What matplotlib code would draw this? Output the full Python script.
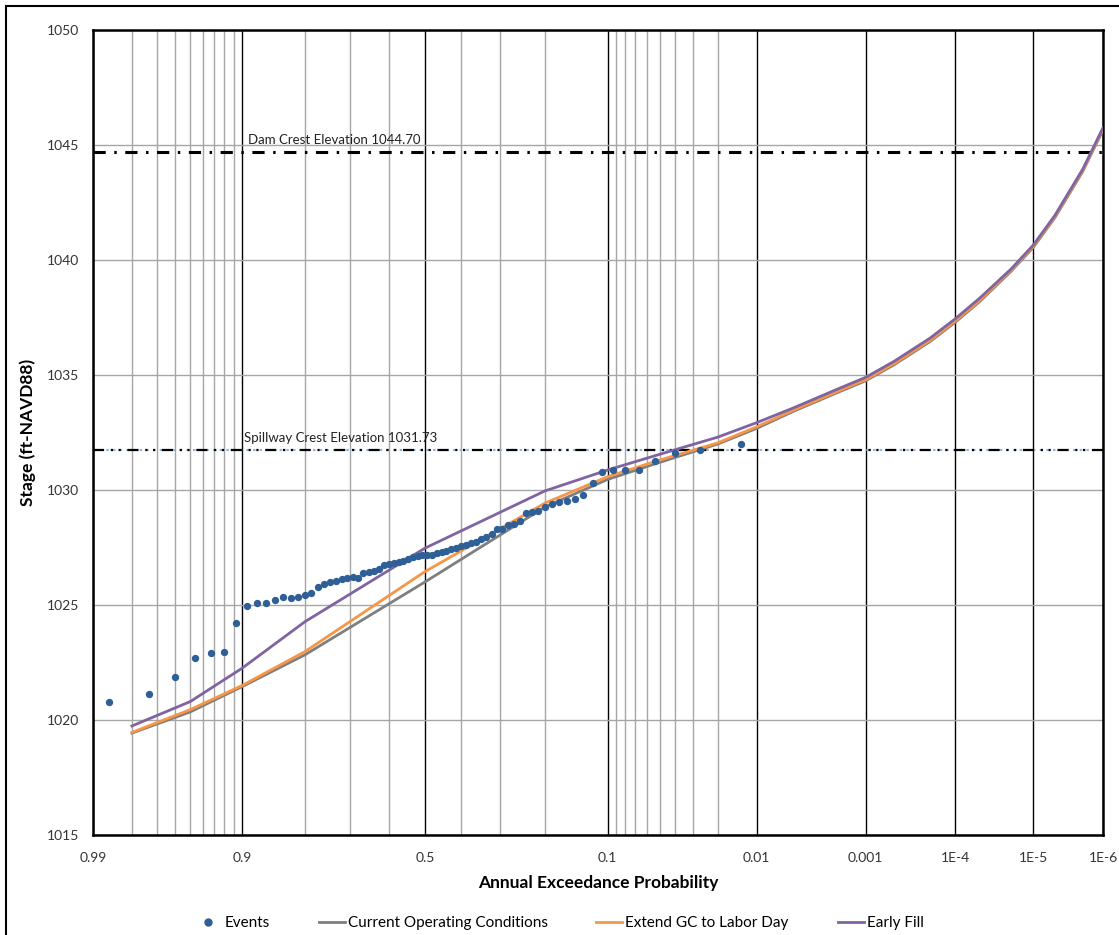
import numpy as np
import matplotlib
matplotlib.use("Agg")
import matplotlib.pyplot as plt
from matplotlib.patches import Rectangle
from matplotlib.lines import Line2D
from statistics import NormalDist

plt.rcParams['font.family'] = ['Lato', 'DejaVu Sans']

# ---- data ----
event_prob = [0.9867, 0.9733, 0.96, 0.9467, 0.9333, 0.92, 0.9067, 0.8933, 0.88, 0.8667,
              0.8533, 0.84, 0.8267, 0.8133, 0.8, 0.7867, 0.7733, 0.76, 0.7467, 0.7333,
              0.72, 0.7067, 0.6933, 0.68, 0.6667, 0.6533, 0.64, 0.6267, 0.6133, 0.6,
              0.5867, 0.5733, 0.56, 0.5467, 0.5333, 0.52, 0.5067, 0.4933, 0.48, 0.4667,
              0.4533, 0.44, 0.4267, 0.4133, 0.4, 0.3867, 0.3733, 0.36, 0.3467, 0.3333,
              0.32, 0.3067, 0.2933, 0.28, 0.2667, 0.2533, 0.24, 0.2267, 0.2133, 0.2,
              0.1867, 0.1733, 0.16, 0.1467, 0.1333, 0.12, 0.1067, 0.0933, 0.08, 0.0667,
              0.0533, 0.04, 0.0267, 0.0133]
event_stage = [1020.80, 1021.15, 1021.86, 1022.68, 1022.91, 1022.97, 1024.20, 1024.97, 1025.09, 1025.07,
               1025.22, 1025.33, 1025.30, 1025.36, 1025.43, 1025.51, 1025.80, 1025.91, 1026.01, 1026.04,
               1026.12, 1026.16, 1026.20, 1026.18, 1026.38, 1026.45, 1026.48, 1026.55, 1026.74, 1026.78,
               1026.84, 1026.88, 1026.92, 1027.00, 1027.10, 1027.15, 1027.17, 1027.17, 1027.17, 1027.25,
               1027.30, 1027.35, 1027.45, 1027.50, 1027.55, 1027.60, 1027.68, 1027.75, 1027.88, 1027.95,
               1028.10, 1028.30, 1028.32, 1028.48, 1028.52, 1028.67, 1028.99, 1029.06, 1029.08, 1029.27,
               1029.38, 1029.46, 1029.53, 1029.60, 1029.77, 1030.29, 1030.77, 1030.88, 1030.88, 1030.85,
               1031.27, 1031.60, 1031.74, 1032.00]

curve_prob = [0.98, 0.95, 0.9, 0.8, 0.5, 0.2, 0.1, 0.05, 0.02, 0.01, 0.005, 0.002, 0.001,
              5e-4, 2e-4, 1e-4, 5e-5, 2e-5, 1e-5, 5e-6, 2e-6, 1e-6]
current_stage = [1019.43, 1020.35, 1021.45, 1022.83, 1026.00, 1029.26, 1030.46, 1031.20, 1032.00, 1032.68,
                 1033.40, 1034.20, 1034.75, 1035.45, 1036.45, 1037.30, 1038.20, 1039.50, 1040.55,
                 1041.85, 1043.85, 1045.65]
extend_stage = [1019.46, 1020.45, 1021.50, 1022.97, 1026.45, 1029.43, 1030.58, 1031.30, 1032.05, 1032.75,
                1033.45, 1034.25, 1034.80, 1035.50, 1036.50, 1037.35, 1038.25, 1039.55, 1040.60,
                1041.90, 1043.90, 1045.70]
early_stage = [1019.74, 1020.80, 1022.25, 1024.27, 1027.47, 1029.96, 1030.87, 1031.55, 1032.30, 1032.93,
               1033.55, 1034.35, 1034.90, 1035.60, 1036.60, 1037.45, 1038.35, 1039.60, 1040.65,
               1041.95, 1043.95, 1045.75]

dam_crest = 1044.70
spillway_crest = 1031.73

major_ticks = [0.99, 0.9, 0.5, 0.1, 0.01, 0.001, 1e-4, 1e-5, 1e-6]
major_labels = ['0.99', '0.9', '0.5', '0.1', '0.01', '0.001', '1E-4', '1E-5', '1E-6']
minor_ticks = [0.98, 0.97, 0.96, 0.95, 0.94, 0.93, 0.92, 0.91, 0.8, 0.7, 0.6, 0.4, 0.3, 0.2,
               0.09, 0.08, 0.07, 0.06, 0.05, 0.04, 0.03, 0.02]

# ---- normal probability scale ----
_nd = NormalDist()


def prob_fwd(p):
    p = np.asarray(p, dtype=float)
    flat = np.clip(p.ravel(), 1e-12, 1 - 1e-12)
    return np.array([_nd.inv_cdf(v) if np.isfinite(v) else np.nan for v in flat]).reshape(p.shape)


def prob_inv(z):
    z = np.asarray(z, dtype=float)
    return np.array([_nd.cdf(v) if np.isfinite(v) else np.nan for v in z.ravel()]).reshape(z.shape)


fig = plt.figure(figsize=(11.19, 9.35), dpi=100)
ax = fig.add_axes([93 / 1119, 1 - 835 / 935, 1010 / 1119, 805 / 935])
ax.set_xscale('function', functions=(prob_fwd, prob_inv))
ax.set_xlim(0.99, 1e-6)
ax.set_ylim(1015, 1050)

ax.set_xticks(major_ticks)
ax.set_xticklabels(major_labels)
ax.set_xticks(minor_ticks, minor=True)
ax.set_yticks(np.arange(1015, 1051, 5))
ax.tick_params(which='both', length=0, labelsize=10, colors='#333333')
ax.tick_params(axis='x', pad=12)
ax.tick_params(axis='y', pad=10)

ax.grid(axis='x', which='major', color='black', lw=1.0)
ax.grid(axis='x', which='minor', color='#a6a6a6', lw=1.0)
ax.grid(axis='y', which='major', color='#a6a6a6', lw=1.0)
ax.set_axisbelow(True)
for s in ax.spines.values():
    s.set_linewidth(1.8)
    s.set_color('black')

# crest lines
ax.axhline(dam_crest, color='black', lw=2.2, linestyle=(0, (4, 2.8, 0.8, 2.8)))
ax.axhline(spillway_crest, color='#8db4e2', lw=1.5, linestyle=(0, (1.2, 2)))
ax.axhline(spillway_crest, color='black', lw=1.6, linestyle=(0, (5, 3, 1, 2.5, 1, 3)))
ax.text(155 / 1010, dam_crest + 0.25, 'Dam Crest Elevation 1044.70',
        transform=ax.get_yaxis_transform(), fontsize=9.5, color='#222222', va='bottom')
ax.text(151 / 1010, spillway_crest + 0.25, 'Spillway Crest Elevation 1031.73',
        transform=ax.get_yaxis_transform(), fontsize=9.5, color='#222222', va='bottom')

# series
ax.plot(curve_prob, current_stage, color='#7f7f7f', lw=2, label='Current Operating Conditions', zorder=3)
ax.plot(curve_prob, extend_stage, color='#f79646', lw=2, label='Extend GC to Labor Day', zorder=4)
ax.plot(curve_prob, early_stage, color='#8064a2', lw=2, label='Early Fill', zorder=5)
ax.scatter(event_prob, event_stage, s=28, color='#2f5f97', label='Events', zorder=6, linewidths=0)

ax.set_xlabel('Annual Exceedance Probability', fontsize=12.5, fontweight='bold', labelpad=8)
ax.set_ylabel('Stage (ft-NAVD88)', fontsize=12.5, fontweight='bold', labelpad=8)

handles = [Line2D([], [], marker='o', ls='none', color='#2f5f97', markersize=5),
           Line2D([], [], color='#7f7f7f', lw=2),
           Line2D([], [], color='#f79646', lw=2),
           Line2D([], [], color='#8064a2', lw=2)]
labels = ['Events', 'Current Operating Conditions', 'Extend GC to Labor Day', 'Early Fill']
fig.legend(handles, labels, loc='center', bbox_to_anchor=(0.5, 1 - 923 / 935), ncol=4,
           frameon=False, fontsize=11, handlelength=1.7, columnspacing=3.2, handletextpad=0.2)

# chart border
fig.patches.append(Rectangle((6 / 1119, -0.05), 1.2, 1 - 6 / 935 + 0.05, transform=fig.transFigure,
                             fill=False, edgecolor='black', lw=1.5))

fig.savefig('out.png', dpi=100)
